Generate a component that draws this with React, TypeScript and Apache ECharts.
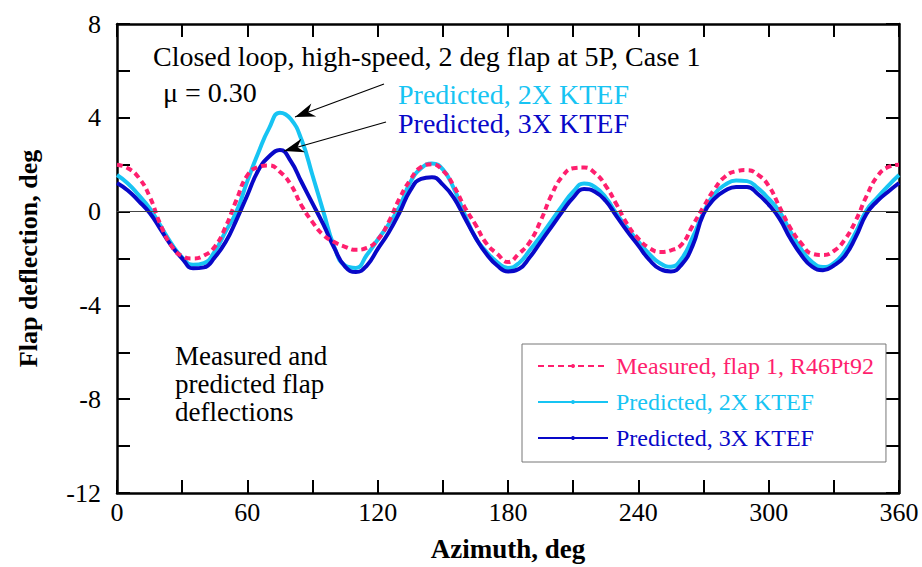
import React, { useEffect, useRef } from "react";
import * as echarts from "echarts";

const AZIMUTH = [
  0, 5, 10, 15, 20, 25, 30, 35, 40, 45, 50, 55, 60, 65, 70, 75, 80, 85, 90, 95,
  100, 105, 110, 115, 120, 125, 130, 135, 140, 145, 150, 155, 160, 165, 170, 175,
  180, 185, 190, 195, 200, 205, 210, 215, 220, 225, 230, 235, 240, 245, 250, 255,
  260, 265, 270, 275, 280, 285, 290, 295, 300, 305, 310, 315, 320, 325, 330, 335,
  340, 345, 350, 355, 360,
];

const MEASURED = [
  2.0, 1.85, 1.45, 0.65, -0.55, -1.45, -1.9, -2.0, -1.88, -1.5, -0.65, 0.5, 1.55, 1.9, 1.97, 1.7, 1.15, 0.25, -0.45, -1.0,
  -1.3, -1.5, -1.63, -1.55, -1.2, -0.45, 0.55, 1.35, 1.9, 2.02, 1.75, 1.1, 0.2, -0.55, -1.35, -1.8,
  -2.15, -1.8, -1.3, -0.4, 0.7, 1.5, 1.85, 1.88, 1.65, 1.1, 0.3, -0.55, -1.15, -1.55, -1.72, -1.65,
  -1.4, -0.6, 0.2, 0.95, 1.5, 1.72, 1.77, 1.58, 1.1, 0.2, -0.7, -1.35, -1.8, -1.85, -1.68, -1.2,
  -0.4, 0.65, 1.5, 1.9, 2.0,
];

const PREDICTED_2X = [
  1.56, 1.2, 0.7, 0.15, -0.6, -1.35, -1.95, -2.27, -2.2, -1.7, -0.85, 0.0, 1.3, 2.5, 3.55, 4.22, 3.95, 3.05, 1.55, 0.0,
  -1.5, -2.3, -2.4, -1.85, -1.2, -0.55, 0.2, 1.25, 1.85, 2.05, 1.8, 1.0, -0.1, -1.1, -1.7, -2.15,
  -2.4, -2.2, -1.65, -1.05, -0.4, 0.25, 0.85, 1.2, 1.05, 0.6, -0.1, -0.7, -1.28, -1.8, -2.2, -2.35,
  -2.0, -1.1, -0.05, 0.75, 1.15, 1.33, 1.3, 1.0, 0.55, 0.0, -0.85, -1.6, -2.15, -2.36, -2.2, -1.7,
  -0.9, 0.05, 0.6, 1.1, 1.56,
];

const PREDICTED_3X = [
  1.22, 0.9, 0.45, -0.05, -0.75, -1.45, -2.0, -2.42, -2.38, -1.95, -1.3, -0.35, 0.7, 1.75, 2.35, 2.63, 2.15, 1.25, 0.35, -0.55,
  -1.55, -2.35, -2.58, -2.3, -1.6, -0.9, -0.05, 0.9, 1.4, 1.47, 1.15, 0.6, -0.25, -1.1, -1.8, -2.3,
  -2.55, -2.45, -1.95, -1.3, -0.65, 0.0, 0.6, 0.96, 0.85, 0.45, -0.2, -0.85, -1.45, -2.05, -2.45, -2.55,
  -2.25, -1.45, -0.1, 0.55, 0.9, 1.05, 1.05, 0.75, 0.3, -0.3, -1.15, -1.85, -2.35, -2.5, -2.3, -1.9,
  -1.1, -0.1, 0.45, 0.85, 1.22,
];

const X_LABELS = [0, 60, 120, 180, 240, 300, 360];
const Y_LABELS = [-12, -8, -4, 0, 4, 8];

const NAME_MEASURED = "Measured, flap 1, R46Pt92";
const NAME_2X = "Predicted, 2X KTEF";
const NAME_3X = "Predicted, 3X KTEF";

const MAGENTA = "#ff1f6e";
const CYAN = "#17c4f3";
const BLUE = "#0808c8";
const FONT = "'Liberation Serif', 'Times New Roman', serif";

function arrowHead(tipX: number, tipY: number, tailX: number, tailY: number) {
  const dx = tipX - tailX;
  const dy = tipY - tailY;
  const len = Math.hypot(dx, dy);
  const ux = dx / len;
  const uy = dy / len;
  const px = -uy;
  const py = ux;
  const L = 20;
  const W = 7;
  const bx = tipX - L * ux;
  const by = tipY - L * uy;
  const nx = tipX - 14 * ux;
  const ny = tipY - 14 * uy;
  return [
    [tipX, tipY],
    [bx + W * px, by + W * py],
    [nx, ny],
    [bx - W * px, by - W * py],
  ];
}

function arrow(tipX: number, tipY: number, tailX: number, tailY: number) {
  return [
    {
      type: "line",
      shape: { x1: tailX, y1: tailY, x2: tipX, y2: tipY },
      style: { stroke: "#000", lineWidth: 1.2 },
      z: 100,
    },
    {
      type: "polygon",
      shape: { points: arrowHead(tipX, tipY, tailX, tailY) },
      style: { fill: "#000" },
      z: 100,
    },
  ];
}

export default function App() {
  const ref = useRef<HTMLDivElement>(null);

  useEffect(() => {
    if (!ref.current) return;
    const chart = echarts.init(ref.current, null, { renderer: "svg" });
    const pairs = (vals: number[]) => AZIMUTH.map((a, i) => [a, vals[i]]);

    const axisLine = { onZero: false, lineStyle: { color: "#000", width: 2.5 } };
    const axisTick = { inside: true, length: 13, lineStyle: { color: "#000", width: 2 } };

    chart.setOption({
      animation: false,
      backgroundColor: "#fff",
      grid: { left: 117, top: 24, width: 782, height: 469, containLabel: false },
      xAxis: [
        {
          type: "value",
          min: 0,
          max: 360,
          interval: 30,
          position: "bottom",
          axisLine,
          axisTick,
          splitLine: { show: false },
          axisLabel: {
            formatter: (v: number) => (X_LABELS.includes(v) ? String(v) : ""),
            fontSize: 26,
            fontFamily: FONT,
            color: "#000",
            margin: 6,
          },
          name: "Azimuth, deg",
          nameLocation: "middle",
          nameGap: 42,
          nameTextStyle: { fontSize: 27, fontWeight: "bold", fontFamily: FONT, color: "#000" },
        },
        {
          type: "value",
          min: 0,
          max: 360,
          interval: 30,
          position: "top",
          axisLine,
          axisTick,
          splitLine: { show: false },
          axisLabel: { show: false },
        },
      ],
      yAxis: [
        {
          type: "value",
          min: -12,
          max: 8,
          interval: 2,
          position: "left",
          axisLine,
          axisTick,
          splitLine: { show: false },
          axisLabel: {
            formatter: (v: number) => (Y_LABELS.includes(v) ? String(v) : ""),
            fontSize: 26,
            fontFamily: FONT,
            color: "#000",
            margin: 16,
          },
          name: "Flap deflection, deg",
          nameLocation: "middle",
          nameGap: 76,
          nameTextStyle: { fontSize: 26, fontWeight: "bold", fontFamily: FONT, color: "#000" },
        },
        {
          type: "value",
          min: -12,
          max: 8,
          interval: 2,
          position: "right",
          axisLine,
          axisTick,
          splitLine: { show: false },
          axisLabel: { show: false },
        },
      ],
      legend: {
        left: 522,
        top: 344,
        orient: "vertical",
        itemWidth: 70,
        itemHeight: 5,
        itemGap: 12,
        borderColor: "#777",
        borderWidth: 1,
        padding: [10, 12, 12, 15],
        textStyle: { fontSize: 24, fontFamily: FONT, padding: [0, 0, 0, 3] },
        data: [
          { name: NAME_MEASURED, textStyle: { color: MAGENTA } },
          { name: NAME_2X, textStyle: { color: CYAN } },
          { name: NAME_3X, textStyle: { color: BLUE } },
        ],
      },
      series: [
        {
          type: "line",
          name: NAME_2X,
          data: pairs(PREDICTED_2X),
          smooth: 0.5,
          showSymbol: false,
          symbol: "circle",
          symbolSize: 3,
          lineStyle: { color: CYAN, width: 4 },
          itemStyle: { color: CYAN },
          markLine: {
            silent: true,
            symbol: "none",
            label: { show: false },
            lineStyle: { color: "#444", width: 1, type: "solid" },
            data: [{ yAxis: 0 }],
          },
        },
        {
          type: "line",
          name: NAME_3X,
          data: pairs(PREDICTED_3X),
          smooth: 0.5,
          showSymbol: false,
          symbol: "circle",
          symbolSize: 3,
          lineStyle: { color: BLUE, width: 4 },
          itemStyle: { color: BLUE },
        },
        {
          type: "line",
          name: NAME_MEASURED,
          data: pairs(MEASURED),
          smooth: 0.5,
          showSymbol: false,
          symbol: "circle",
          symbolSize: 4,
          lineStyle: { color: MAGENTA, width: 4, type: [6, 4] },
          itemStyle: { color: MAGENTA },
        },
      ],
      graphic: [
        {
          type: "text",
          left: 153,
          top: 42,
          style: { text: "Closed loop, high-speed, 2 deg flap at 5P, Case 1", fontSize: 28, fontFamily: FONT, fill: "#000" },
        },
        {
          type: "text",
          left: 163,
          top: 78,
          style: { text: "\u03bc = 0.30", fontSize: 28, fontFamily: FONT, fill: "#000" },
        },
        {
          type: "text",
          left: 398,
          top: 80,
          style: { text: NAME_2X, fontSize: 28, fontFamily: FONT, fill: CYAN },
        },
        {
          type: "text",
          left: 398,
          top: 109,
          style: { text: NAME_3X, fontSize: 28, fontFamily: FONT, fill: BLUE },
        },
        {
          type: "text",
          left: 175,
          top: 342,
          style: {
            text: "Measured and\npredicted flap\ndeflections",
            fontSize: 27,
            lineHeight: 28,
            fontFamily: FONT,
            fill: "#000",
          },
        },
        ...arrow(295, 117, 384, 84),
        ...arrow(284, 151, 386, 122),
      ],
    });

    return () => chart.dispose();
  }, []);

  return (
    <div
      ref={ref}
      style={{ position: "fixed", left: 0, top: 0, width: 922, height: 567, background: "#fff" }}
    />
  );
}
